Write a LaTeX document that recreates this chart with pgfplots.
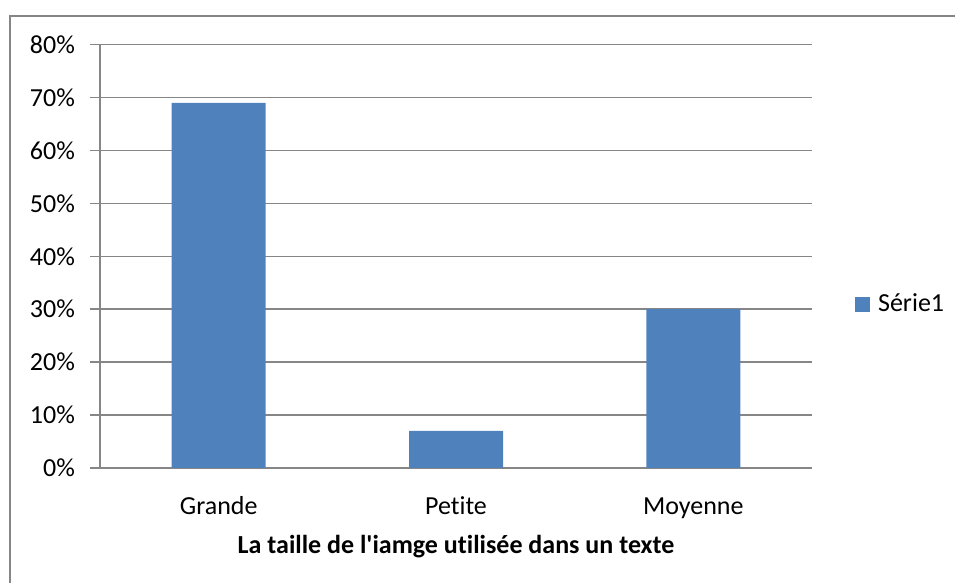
\documentclass[border=0pt]{standalone}
\usepackage{pgfplots}
\pgfplotsset{compat=1.18}
\usepackage{fontspec}
\setmainfont{Carlito}[Ligatures=NoCommon]
\definecolor{barblue}{HTML}{4F81BD}
\definecolor{gridgray}{HTML}{868686}
\begin{document}
\fontsize{13pt}{15pt}\selectfont
\begin{tikzpicture}[x=0.5pt,y=0.5pt]
\useasboundingbox (0,0) rectangle (955,583);
\draw[gridgray, line width=1pt] (10,-10) -- (10,567) -- (970,567);
\coordinate (O) at (100,115);
\begin{axis}[
  at={(O)}, anchor=south west,
  scale only axis, width=356pt, height=211.7pt,
  ymin=0, ymax=80,
  xmin=-0.5, xmax=2.5,
  axis lines=left,
  axis line style={-, gridgray, line width=0.75pt},
  ymajorgrids,
  grid style={gridgray, line width=0.75pt},
  ytick={0,10,...,80},
  yticklabel={\pgfmathprintnumber{\tick}\%},
  xtick={0,1,2},
  xticklabels={Grande, Petite, Moyenne},
  major x tick style={draw=none},
  extra x ticks={-0.5,0.5,1.5,2.5},
  extra x tick labels={},
  extra x tick style={major tick length=4pt, tick style={gridgray, line width=0.75pt}},
  tick align=outside,
  major tick length=5pt,
  tick style={gridgray, line width=0.75pt},
  /pgf/number format/assume math mode=true,
  ticklabel style={font=\fontsize{13pt}{15pt}\selectfont, text=black},
  yticklabel style={xshift=-3pt},
  xticklabel style={anchor=north, text height=9.5pt, text depth=3pt, yshift=-4pt},
  xlabel={\textbf{La taille de l\textquotesingle iamge utilisée dans un texte}},
  xlabel style={at={(axis description cs:0.5,0)}, anchor=center, yshift=-39.5pt, font=\fontsize{13pt}{15pt}\selectfont},
  legend style={at={(axis description cs:1.06,0.385)}, anchor=west, draw=none, fill=none, inner sep=0pt, font=\fontsize{13pt}{15pt}\selectfont, /tikz/every even column/.style={column sep=0pt}},
  legend image code/.code={\fill[barblue] (0pt,-3.75pt) rectangle (7.5pt,3.75pt);},
]
\addplot[ybar, bar width=47pt, fill=barblue, draw=none] coordinates {(0,69) (1,7) (2,30)};
\addlegendentry{\hspace{2pt}Série1}
\end{axis}
\end{tikzpicture}
\end{document}
